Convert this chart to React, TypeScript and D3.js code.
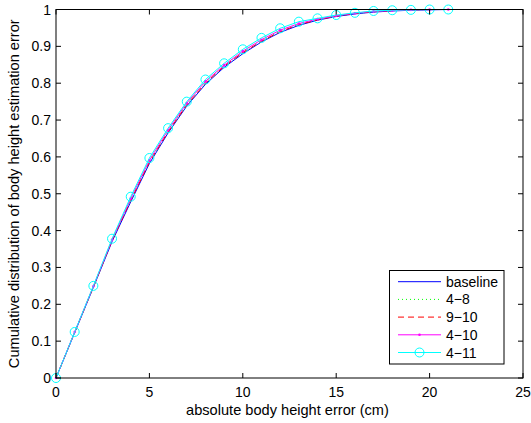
import React, { useEffect, useRef } from 'react';
import * as d3 from 'd3';

// x values (cm)
const xsBaseline = d3.range(0, 23);
const xsOthers = d3.range(0, 22);

const baseline = [0, 0.123, 0.246, 0.37, 0.478, 0.582, 0.665, 0.738, 0.797, 0.843, 0.88, 0.912, 0.938, 0.957, 0.971, 0.981, 0.988, 0.993, 0.996, 0.998, 0.999, 1.0, 1.0];
const s48 = [0, 0.124, 0.248, 0.372, 0.483, 0.587, 0.669, 0.742, 0.801, 0.846, 0.884, 0.915, 0.941, 0.96, 0.973, 0.982, 0.989, 0.994, 0.997, 0.999, 1, 1];
const s910 = [0, 0.124, 0.247, 0.373, 0.482, 0.586, 0.668, 0.741, 0.8, 0.846, 0.883, 0.914, 0.94, 0.959, 0.972, 0.982, 0.989, 0.994, 0.997, 0.999, 1, 1];
const s410 = [0, 0.125, 0.249, 0.375, 0.487, 0.591, 0.673, 0.746, 0.805, 0.849, 0.887, 0.918, 0.944, 0.962, 0.974, 0.983, 0.99, 0.995, 0.997, 0.999, 1, 1];
const s411 = [0, 0.125, 0.25, 0.378, 0.492, 0.597, 0.678, 0.75, 0.81, 0.854, 0.892, 0.923, 0.949, 0.967, 0.976, 0.985, 0.991, 0.996, 0.998, 0.999, 1, 1];

const xTicks = [0, 5, 10, 15, 20, 25];
const yTicks = [0, 0.1, 0.2, 0.3, 0.4, 0.5, 0.6, 0.7, 0.8, 0.9, 1];

const seriesNames = ['baseline', '4\u22128', '9\u221210', '4\u221210', '4\u221211'];

const FONT = 'Liberation Sans, Arial, Helvetica, sans-serif';
const FS = 14;
const LABEL_FS = 14.6;

const App = () => {
  const svgRef = useRef<SVGSVGElement>(null);

  useEffect(() => {
    const svg = d3.select(svgRef.current);
    svg.selectAll('*').remove();

    const left = 56, right = 523, top = 9.5, bottom = 378;
    const x = d3.scaleLinear().domain([0, 25]).range([left, right]);
    const y = d3.scaleLinear().domain([0, 1]).range([bottom, top]);

    svg.append('rect').attr('width', 531).attr('height', 423).attr('fill', 'white');

    const series = [
      { name: seriesNames[0], xs: xsBaseline, ys: baseline, color: '#0000ff', dash: null as string | null, marker: 'none' },
      { name: seriesNames[1], xs: xsOthers, ys: s48, color: '#00ff00', dash: '1,3', marker: 'none' },
      { name: seriesNames[2], xs: xsOthers, ys: s910, color: '#ff0000', dash: '6,4', marker: 'none' },
      { name: seriesNames[3], xs: xsOthers, ys: s410, color: '#ff00ff', dash: null, marker: 'dot' },
      { name: seriesNames[4], xs: xsOthers, ys: s411, color: '#00ffff', dash: null, marker: 'circle' },
    ];

    const line = d3.line<[number, number]>().x(d => x(d[0])).y(d => y(d[1]));

    series.forEach(s => {
      const pts = s.xs.map((v, i) => [v, s.ys[i]] as [number, number]);
      svg.append('path')
        .attr('d', line(pts))
        .attr('fill', 'none')
        .attr('stroke', s.color)
        .attr('stroke-width', 1)
        .attr('stroke-dasharray', s.dash);
      if (s.marker === 'dot') {
        svg.append('g').selectAll('circle').data(pts).enter().append('circle')
          .attr('cx', d => x(d[0])).attr('cy', d => y(d[1])).attr('r', 1.3)
          .attr('fill', s.color);
      }
      if (s.marker === 'circle') {
        svg.append('g').selectAll('circle').data(pts).enter().append('circle')
          .attr('cx', d => x(d[0])).attr('cy', d => y(d[1])).attr('r', 4.5)
          .attr('fill', 'none').attr('stroke', s.color).attr('stroke-width', 1);
      }
    });

    // box
    svg.append('rect')
      .attr('x', left).attr('y', top)
      .attr('width', right - left).attr('height', bottom - top)
      .attr('fill', 'none').attr('stroke', 'black').attr('stroke-width', 1);

    const tl = 5;
    // ticks on all four sides, pointing inward
    xTicks.forEach(t => {
      svg.append('line').attr('x1', x(t)).attr('x2', x(t)).attr('y1', bottom).attr('y2', bottom - tl).attr('stroke', 'black');
      svg.append('line').attr('x1', x(t)).attr('x2', x(t)).attr('y1', top).attr('y2', top + tl).attr('stroke', 'black');
      svg.append('text').attr('x', x(t)).attr('y', 397)
        .attr('text-anchor', 'middle').attr('font-family', FONT).attr('font-size', FS)
        .text(d3.format('d')(t));
    });
    yTicks.forEach(t => {
      svg.append('line').attr('x1', left).attr('x2', left + tl).attr('y1', y(t)).attr('y2', y(t)).attr('stroke', 'black');
      svg.append('line').attr('x1', right).attr('x2', right - tl).attr('y1', y(t)).attr('y2', y(t)).attr('stroke', 'black');
      svg.append('text').attr('x', 51).attr('y', y(t) + 5)
        .attr('text-anchor', 'end').attr('font-family', FONT).attr('font-size', FS)
        .text(String(t));
    });

    svg.append('text')
      .attr('x', (left + right) / 2 - 2).attr('y', 415)
      .attr('text-anchor', 'middle').attr('font-family', FONT).attr('font-size', LABEL_FS)
      .text('absolute body height error (cm)');

    svg.append('text')
      .attr('transform', `translate(19,${(top + bottom) / 2}) rotate(-90)`)
      .attr('text-anchor', 'middle').attr('font-family', FONT).attr('font-size', LABEL_FS)
      .text('Cumulative distribution of body height estimation error');

    // legend
    const lg = svg.append('g');
    lg.append('rect').attr('x', 389.5).attr('y', 270.5).attr('width', 114.5).attr('height', 93.5)
      .attr('fill', 'white').attr('stroke', 'black').attr('stroke-width', 1);
    series.forEach((s, i) => {
      const ly = 281.7 + i * 17.7;
      lg.append('line').attr('x1', 398).attr('x2', 441).attr('y1', ly).attr('y2', ly)
        .attr('stroke', s.color).attr('stroke-width', 1).attr('stroke-dasharray', s.dash);
      if (s.marker === 'dot') {
        lg.append('circle').attr('cx', 419.5).attr('cy', ly).attr('r', 1.3).attr('fill', s.color);
      }
      if (s.marker === 'circle') {
        lg.append('circle').attr('cx', 419.5).attr('cy', ly).attr('r', 4.5)
          .attr('fill', 'none').attr('stroke', s.color);
      }
      lg.append('text').attr('x', 446).attr('y', ly + 5)
        .attr('font-family', FONT).attr('font-size', FS).text(s.name);
    });
  }, []);

  return (
    <div style={{ position: 'absolute', left: 0, top: 0 }}>
      <svg ref={svgRef} width={531} height={423}></svg>
    </div>
  );
};

export default App;
